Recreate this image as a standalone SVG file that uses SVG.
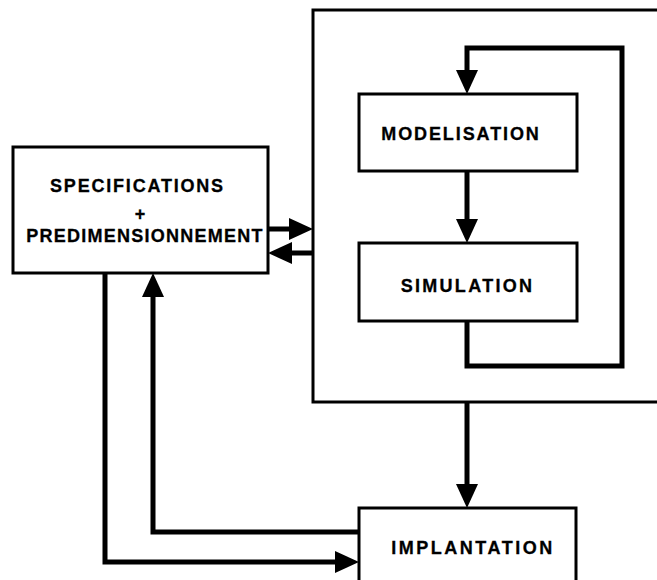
<svg xmlns="http://www.w3.org/2000/svg" width="657" height="580" viewBox="0 0 657 580">
  <defs>
    <marker id="arrow" markerUnits="userSpaceOnUse" markerWidth="24" markerHeight="22" refX="12" refY="11" orient="auto">
      <path d="M0,0 L24,11 L0,22 z" fill="#000"/>
    </marker>
    <style>
      .box { fill: #fff; stroke: #000; stroke-width: 3; }
      .label { font-family: "Liberation Sans", Arial, sans-serif; font-weight: bold; font-size: 18px; fill: #000; stroke: #000; stroke-width: 0.3; text-anchor: middle; }
      .wire { fill: none; stroke: #000; stroke-width: 5; stroke-linejoin: miter; }
      .wire.arrowed { marker-end: url(#arrow); }
    </style>
  </defs>
  <rect width="657" height="580" fill="#fff"/>

  <!-- outer frame around the modelling / simulation loop -->
  <g id="frame">
    <rect class="box" x="313" y="10" width="370" height="392"/>
  </g>

  <g id="specifications">
    <rect class="box" x="13" y="147" width="255" height="126"/>
    <text class="label" x="137.5" y="192" letter-spacing="1.8">SPECIFICATIONS</text>
    <text class="label" x="140" y="220" font-size="14">+</text>
    <text class="label" x="145" y="242" letter-spacing="1.25">PREDIMENSIONNEMENT</text>
  </g>

  <g id="modelisation">
    <rect class="box" x="359" y="94" width="218" height="77"/>
    <text class="label" x="461" y="140" letter-spacing="1.9">MODELISATION</text>
  </g>

  <g id="simulation">
    <rect class="box" x="359" y="243" width="218" height="78"/>
    <text class="label" x="467.5" y="292" letter-spacing="2.3">SIMULATION</text>
  </g>

  <g id="implantation">
    <rect class="box" x="359" y="508" width="217" height="90"/>
    <text class="label" x="473" y="554" letter-spacing="2.5">IMPLANTATION</text>
  </g>

  <g id="connectors">
    <!-- specifications <-> frame -->
    <path class="wire arrowed" d="M268,229 H301"/>
    <path class="wire arrowed" d="M313,253 H280"/>
    <!-- modelisation -> simulation -> back to modelisation -->
    <path class="wire arrowed" d="M467,171 V231"/>
    <path class="wire arrowed" d="M467,321 V366 H622 V48 H467 V82"/>
    <!-- frame -> implantation -->
    <path class="wire arrowed" d="M467,402 V496"/>
    <!-- implantation -> specifications -->
    <path class="wire arrowed" d="M359,532 H153 V285"/>
    <!-- specifications -> implantation -->
    <path class="wire arrowed" d="M105,273 V562 H347"/>
  </g>
</svg>
